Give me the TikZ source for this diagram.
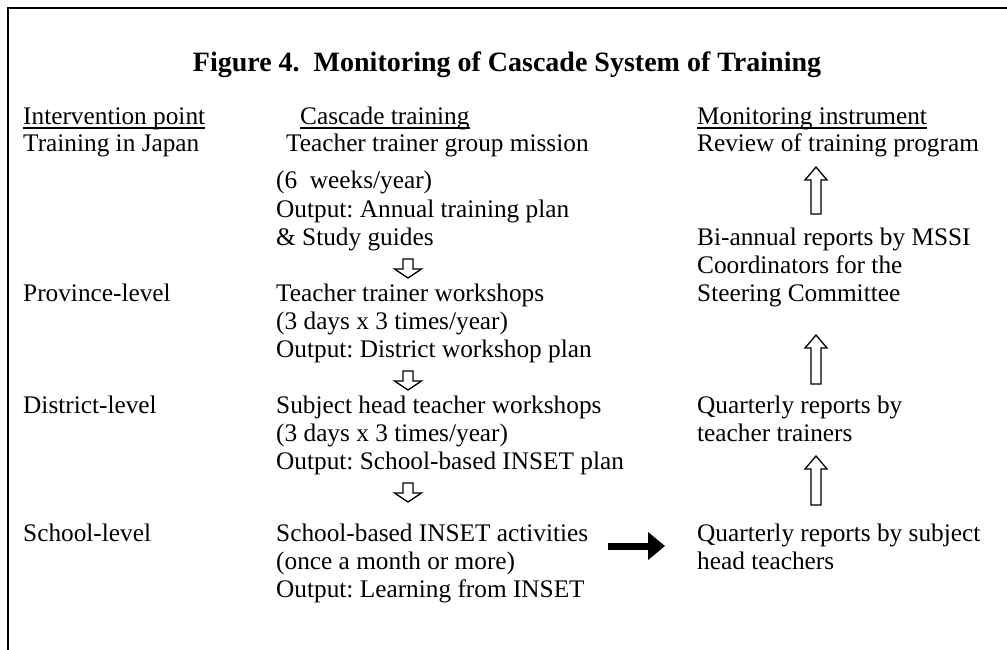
\documentclass[tikz,border=0pt]{standalone}
\usepackage{fontspec}
\setmainfont{Liberation Serif}
\usetikzlibrary{arrows.meta}
\frenchspacing
\newcommand\blkup[3]{\draw[hollow] (#1,#2) -- ({#1+11},{#2+13}) -- ({#1+5},{#2+13}) -- ({#1+5},#3) -- ({#1-5},#3) -- ({#1-5},{#2+13}) -- ({#1-11},{#2+13}) -- cycle;}
\newcommand\blkdown[3]{\draw[hollow] (#1,#3) -- ({#1+13.5},{#3-9}) -- ({#1+5},{#3-9}) -- ({#1+5},#2) -- ({#1-5},#2) -- ({#1-5},{#3-9}) -- ({#1-13.5},{#3-9}) -- cycle;}
\begin{document}
\begin{tikzpicture}[x=1pt,y=-1pt,
 txt/.style={anchor=base west, inner sep=0pt, font=\fontsize{25.3}{29}\selectfont\frenchspacing},
 ttl/.style={anchor=base, inner sep=0pt, font=\fontsize{28}{32}\selectfont\bfseries},
 hollow/.style={draw, line width=1.3pt, fill=white, line join=miter},
 uline/.style={line width=1.3pt},
]
\useasboundingbox (0,0) rectangle (1007,650);
\draw[line width=2pt] (8,650) -- (8,8) -- (1007,8);
\node[ttl] (title) at (507,72) {Figure 4.\ \ Monitoring of Cascade System of Training};
% headers
\node[txt] (h1) at (23,125) {Intervention point};
\node[txt] (h2) at (300,125) {Cascade training};
\node[txt] (h3) at (697,125) {Monitoring instrument};
\foreach \h in {h1,h2,h3} \draw[uline] ([yshift=-3pt]\h.base west) -- ([yshift=-3pt]\h.base east);
% left column
\node[txt] (l1) at (23,152) {Training in Japan};
\node[txt] (l2) at (23,301) {Province-level};
\node[txt] (l3) at (23,413) {District-level};
\node[txt] (l4) at (23,541) {School-level};
% cascade column
\node[txt] (c1a) at (286,152) {Teacher trainer group mission};
\node[txt] (c1b) at (276,189) {(6\ \ weeks/year)};
\node[txt] (c1c) at (276,217) {Output: Annual training plan};
\node[txt] (c1d) at (276,245) {\& Study guides};
\node[txt] (c2a) at (276,301) {Teacher trainer workshops};
\node[txt] (c2b) at (276,329) {(3 days x 3 times/year)};
\node[txt] (c2c) at (276,357) {Output: District workshop plan};
\node[txt] (c3a) at (276,413) {Subject head teacher workshops};
\node[txt] (c3b) at (276,441) {(3 days x 3 times/year)};
\node[txt] (c3c) at (276,469) {Output: School-based INSET plan};
\node[txt] (c4a) at (276,541) {School-based INSET activities};
\node[txt] (c4b) at (276,569) {(once a month or more)};
\node[txt] (c4c) at (276,597) {Output: Learning from INSET};
% monitoring column
\node[txt] (m1) at (697,152) {Review of training program};
\node[txt] (m2a) at (697,245) {Bi-annual reports by MSSI};
\node[txt] (m2b) at (697,273) {Coordinators for the};
\node[txt] (m2c) at (697,301) {Steering Committee};
\node[txt] (m3a) at (697,413) {Quarterly reports by};
\node[txt] (m3b) at (697,441) {teacher trainers};
\node[txt] (m4a) at (697,541) {Quarterly reports by subject};
\node[txt] (m4b) at (697,569) {head teachers};
% hollow arrows
\blkdown{408}{259}{278}
\blkdown{408}{371}{390}
\blkdown{408}{483}{502}
\blkup{816}{167}{214}
\blkup{816}{335}{384}
\blkup{816}{456}{505}
% black arrow
\coordinate (bs) at (608,546);
\coordinate (be) at (665,546);
\draw[line width=7pt, -{Triangle[length=17pt,width=27pt]}] (bs) -- (be);
\end{tikzpicture}
\end{document}
